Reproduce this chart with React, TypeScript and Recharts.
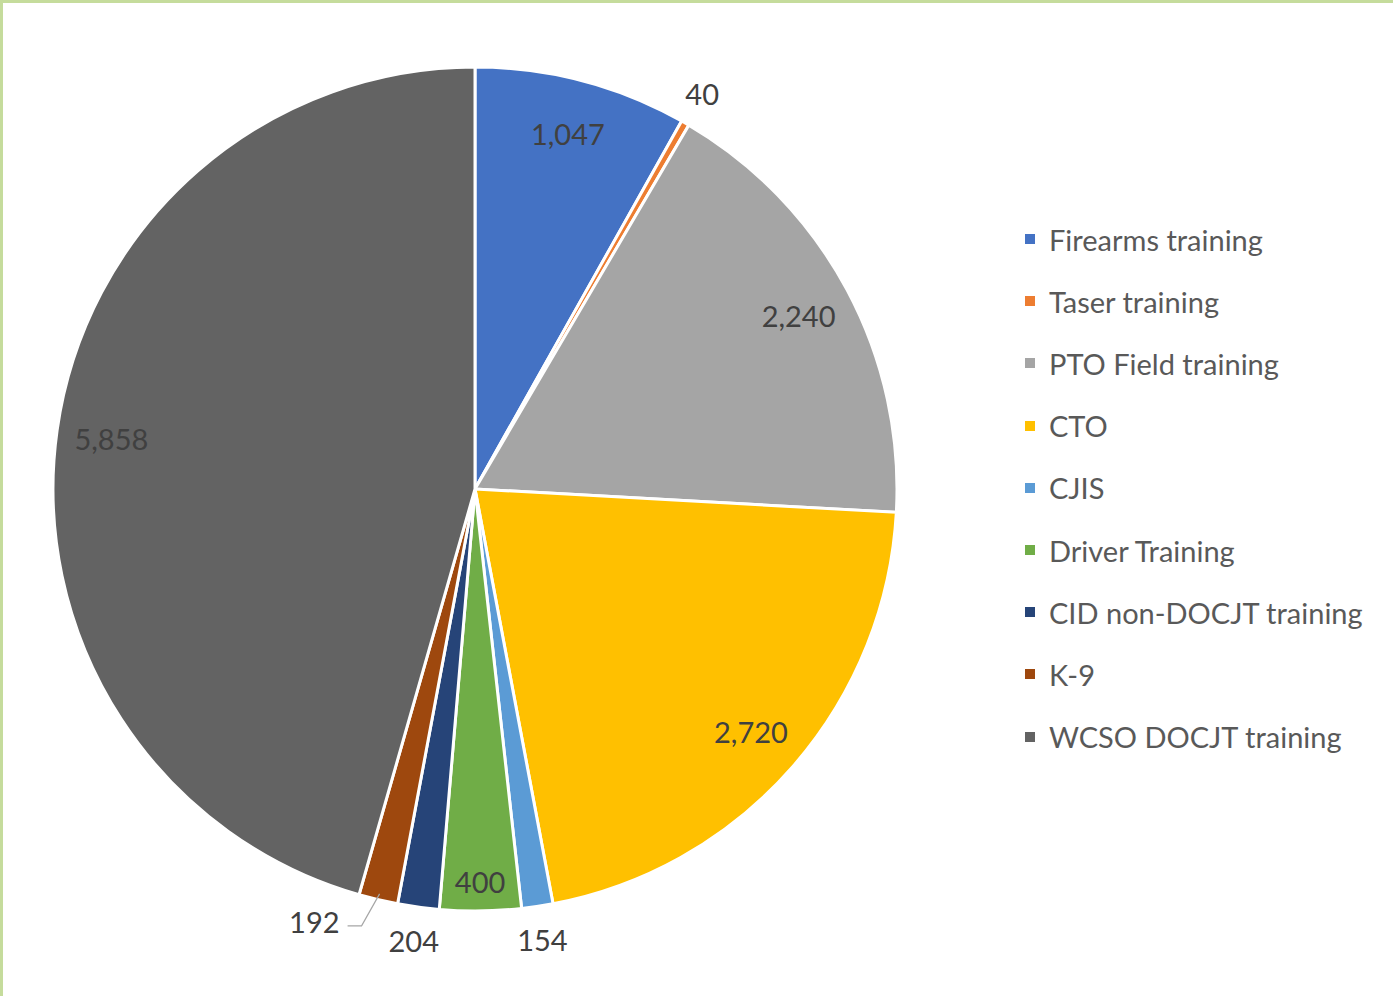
import React from 'react';
import { PieChart, Pie, Cell, Legend } from 'recharts';

const categories = [
  'Firearms training',
  'Taser training',
  'PTO Field training',
  'CTO',
  'CJIS',
  'Driver Training',
  'CID non-DOCJT training',
  'K-9',
  'WCSO DOCJT training',
];
const hours = [1047, 40, 2240, 2720, 154, 400, 204, 192, 5858];
const colors = ['#4472C4', '#ED7D31', '#A5A5A5', '#FFC000', '#5B9BD5', '#70AD47', '#264478', '#9E480E', '#636363'];

const data = categories.map((name, i) => ({ name, value: hours[i] }));
const total = hours.reduce((a, b) => a + b, 0);

const RAD = Math.PI / 180;
const FONT = 'Lato, "Open Sans", sans-serif';

const renderLabel = (props: any) => {
  const { cx, cy, midAngle, outerRadius, value, index } = props;
  const share = value / total;
  const txt = value.toLocaleString('en-US');
  const cos = Math.cos(-midAngle * RAD);
  const sin = Math.sin(-midAngle * RAD);

  if (share >= 0.025) {
    const r = outerRadius * (share < 0.04 ? 0.93 : 0.87);
    return (
      <text x={cx + r * cos} y={cy + r * sin} textAnchor="middle" dominantBaseline="central"
        fill="#404040" fontSize={29} fontFamily={FONT}>
        {txt}
      </text>
    );
  }

  // small slices get outside labels; K-9 uses a leader line
  if (categories[index] === 'K-9') {
    const sx = cx + (outerRadius - 6) * cos;
    const sy = cy + (outerRadius - 6) * sin;
    const ex = sx - 18;
    const ey = sy + 32;
    return (
      <g>
        <polyline points={`${sx},${sy} ${ex},${ey} ${ex - 14},${ey}`} fill="none" stroke="#a6a6a6" strokeWidth={1.2} />
        <text x={ex - 22} y={ey - 4} textAnchor="end" dominantBaseline="central"
          fill="#404040" fontSize={29} fontFamily={FONT}>
          {txt}
        </text>
      </g>
    );
  }
  const r = outerRadius + 34;
  return (
    <text x={cx + r * cos} y={cy + r * sin} textAnchor="middle" dominantBaseline="central"
      fill="#404040" fontSize={29} fontFamily={FONT}>
      {txt}
    </text>
  );
};

const renderLegend = () => (
  <div style={{ fontFamily: FONT }}>
    {categories.map((c, i) => (
      <div key={c} style={{ display: 'flex', alignItems: 'center', height: 62.2 }}>
        <span style={{ width: 10, height: 10, background: colors[i], marginRight: 14, display: 'inline-block' }} />
        <span style={{ fontSize: 29, color: '#595959' }}>{c}</span>
      </div>
    ))}
  </div>
);

export default function App() {
  return (
    <div style={{
      position: 'absolute', left: 0, top: 0, width: 1393, height: 996, background: '#fff',
      boxSizing: 'border-box', borderTop: '3px solid #c5dc9c', borderLeft: '3px solid #c5dc9c',
    }}>
      <PieChart width={1390} height={993}>
        <Pie
          data={data}
          dataKey="value"
          nameKey="name"
          cx={467}
          cy={481}
          outerRadius={422}
          startAngle={90}
          endAngle={-270}
          stroke="#ffffff"
          strokeWidth={3}
          label={renderLabel}
          labelLine={false}
          isAnimationActive={false}
        >
          {data.map((d, i) => (
            <Cell key={d.name} fill={colors[i]} />
          ))}
        </Pie>
        <Legend
          content={renderLegend}
          layout="vertical"
          wrapperStyle={{ position: 'absolute', left: 1022, top: 205, width: 370 }}
        />
      </PieChart>
    </div>
  );
}
